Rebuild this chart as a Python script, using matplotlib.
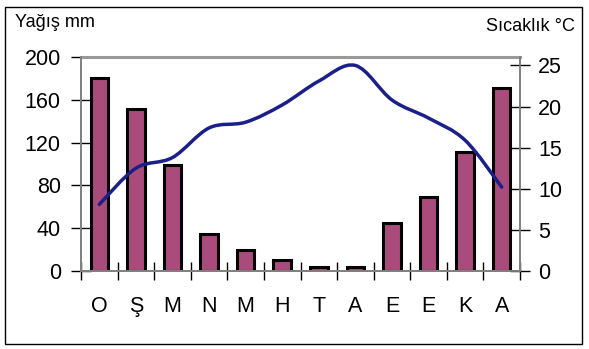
import matplotlib
matplotlib.use("Agg")
import matplotlib.pyplot as plt
from matplotlib.path import Path
from matplotlib.patches import PathPatch, Rectangle
import numpy as np

plt.rcParams['font.family'] = ['Liberation Sans', 'DejaVu Sans']

months = ["O", "Ş", "M", "N", "M", "H", "T", "A", "E", "E", "K", "A"]
rain_mm = [180, 151, 99, 35, 20, 10, 4, 4, 45, 69, 111, 171]
temp_c = [8.1, 12.5, 13.8, 17.4, 18.1, 20.2, 23.1, 25.0, 20.8, 18.6, 15.9, 10.2]
rain_ticks = [0, 40, 80, 120, 160, 200]
temp_ticks = [0, 5, 10, 15, 20, 25]

W, H = 589, 349
fig = plt.figure(figsize=(W / 100, H / 100), dpi=100)

# outer frame
fig.patches.append(Rectangle((5 / W, 1 - 344 / H), 577 / W, 337 / H,
                             transform=fig.transFigure, fill=False,
                             edgecolor='black', linewidth=1.0))

ax = fig.add_axes([81 / W, 1 - 271 / H, (520 - 81) / W, (271 - 57) / H])
x = np.arange(len(months)) + 0.5
ax.bar(x, rain_mm, width=0.48, color='#A94B7B', edgecolor='black', linewidth=2.2, zorder=2)
ax.set_xlim(0, len(months))
ax.set_ylim(0, 200)
ax.set_yticks(rain_ticks)
ax.set_xticks(np.arange(len(months) + 1))
ax.set_xticklabels([])
ax.set_xticks(x, minor=True)
ax.set_xticklabels(months, minor=True)
ax.tick_params(axis='x', which='major', direction='inout', length=13, width=1, color='black')
ax.tick_params(axis='x', which='minor', length=0, pad=18, labelsize=15.5)
ax.tick_params(axis='y', direction='inout', length=15, width=1, pad=7, labelsize=15.5)

for side in ['left', 'bottom', 'right']:
    ax.spines[side].set_color('#808080')
    ax.spines[side].set_linewidth(1.3)
ax.spines['top'].set_color('#999999')
ax.spines['top'].set_linewidth(2.2)

ax2 = ax.twinx()
ax2.set_ylim(0, 26.03)
ax2.set_yticks(temp_ticks)
ax2.tick_params(axis='y', direction='inout', length=14, width=1, pad=6, labelsize=15.5)
for side in ['left', 'bottom', 'right']:
    ax2.spines[side].set_color('#808080')
    ax2.spines[side].set_linewidth(1.3)
ax2.spines['top'].set_visible(False)

# smoothed line (Catmull-Rom as cubic Bezier)
pts = np.column_stack([x, temp_c])
verts = [tuple(pts[0])]
codes = [Path.MOVETO]
n = len(pts)
for i in range(n - 1):
    p0 = pts[i - 1] if i > 0 else pts[i]
    p1 = pts[i]
    p2 = pts[i + 1]
    p3 = pts[i + 2] if i + 2 < n else pts[i + 1]
    c1 = p1 + (p2 - p0) / 6.0
    c2 = p2 - (p3 - p1) / 6.0
    verts += [tuple(c1), tuple(c2), tuple(p2)]
    codes += [Path.CURVE4] * 3
ax2.add_patch(PathPatch(Path(verts, codes), fill=False, edgecolor='#1A2088',
                        linewidth=2.5, capstyle='round', joinstyle='round', zorder=3))

fig.text(15 / W, 1 - 27 / H, "Yağış mm", fontsize=13, ha='left', va='baseline')
fig.text(575 / W, 1 - 31 / H, "Sıcaklık °C", fontsize=13, ha='right', va='baseline')

fig.savefig("out.png", dpi=100)
